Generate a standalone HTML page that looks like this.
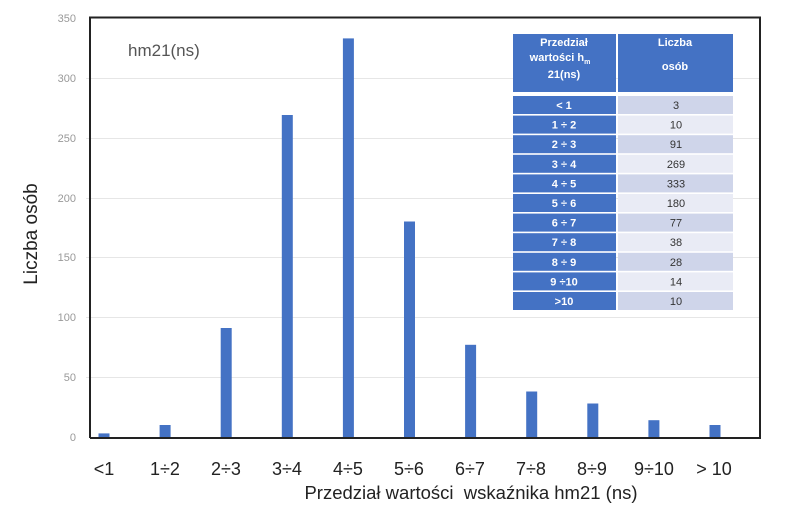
<!DOCTYPE html>
<html><head><meta charset="utf-8"><style>
body{margin:0;background:#fff;width:798px;height:510px;overflow:hidden;font-family:"Liberation Sans",sans-serif;}
</style></head><body>
<svg width="798" height="510" xmlns="http://www.w3.org/2000/svg" font-family="Liberation Sans, sans-serif">
<g stroke="#e6e6e6" stroke-width="1">
<line x1="86" x2="760" y1="78.5" y2="78.5"/>
<line x1="86" x2="760" y1="138.5" y2="138.5"/>
<line x1="86" x2="760" y1="198.5" y2="198.5"/>
<line x1="86" x2="760" y1="257.5" y2="257.5"/>
<line x1="86" x2="760" y1="317.5" y2="317.5"/>
<line x1="86" x2="760" y1="377.5" y2="377.5"/>
</g>
<g fill="#999" font-size="11" text-anchor="end">
<text x="76" y="22">350</text><text x="76" y="82">300</text><text x="76" y="142">250</text>
<text x="76" y="202">200</text><text x="76" y="261">150</text><text x="76" y="321">100</text>
<text x="76" y="381">50</text><text x="76" y="441">0</text>
</g>
<g fill="#4472c4">
<rect x="98.5" y="433.4" width="11" height="3.6"/>
<rect x="159.6" y="425" width="11" height="12"/>
<rect x="220.7" y="328" width="11" height="109"/>
<rect x="281.8" y="115" width="11" height="322"/>
<rect x="342.9" y="38.4" width="11" height="398.6"/>
<rect x="404" y="221.5" width="11" height="215.5"/>
<rect x="465.1" y="344.8" width="11" height="92.2"/>
<rect x="526.2" y="391.5" width="11" height="45.5"/>
<rect x="587.3" y="403.5" width="11" height="33.5"/>
<rect x="648.4" y="420.2" width="11" height="16.8"/>
<rect x="709.5" y="425" width="11" height="12"/>
</g>
<polyline points="90,438 90,17.5 760,17.5 760,438 90,438" fill="none" stroke="#222" stroke-width="2"/>
<text x="128" y="56" font-size="17" fill="#555">hm21(ns)</text>
<g font-size="11" font-weight="bold" fill="#fff" text-anchor="middle">
<rect x="513" y="34" width="103" height="58" fill="#4472c4"/>
<rect x="618" y="34" width="115" height="58" fill="#4472c4"/>
<text x="564" y="46">Przedział</text>
<text x="560" y="61">wartości h<tspan font-size="7" dy="3">m</tspan></text>
<text x="564" y="78">21(ns)</text>
<text x="675" y="46">Liczba</text>
<text x="675" y="70">osób</text>
</g>
<g font-size="11" text-anchor="middle">
<rect x="513" y="96" width="103" height="18" fill="#4472c4"/><rect x="618" y="96" width="115" height="18" fill="#cfd5ea"/>
<rect x="513" y="115.6" width="103" height="18" fill="#4472c4"/><rect x="618" y="115.6" width="115" height="18" fill="#e9ebf5"/>
<rect x="513" y="135.2" width="103" height="18" fill="#4472c4"/><rect x="618" y="135.2" width="115" height="18" fill="#cfd5ea"/>
<rect x="513" y="154.8" width="103" height="18" fill="#4472c4"/><rect x="618" y="154.8" width="115" height="18" fill="#e9ebf5"/>
<rect x="513" y="174.4" width="103" height="18" fill="#4472c4"/><rect x="618" y="174.4" width="115" height="18" fill="#cfd5ea"/>
<rect x="513" y="194" width="103" height="18" fill="#4472c4"/><rect x="618" y="194" width="115" height="18" fill="#e9ebf5"/>
<rect x="513" y="213.6" width="103" height="18" fill="#4472c4"/><rect x="618" y="213.6" width="115" height="18" fill="#cfd5ea"/>
<rect x="513" y="233.2" width="103" height="18" fill="#4472c4"/><rect x="618" y="233.2" width="115" height="18" fill="#e9ebf5"/>
<rect x="513" y="252.8" width="103" height="18" fill="#4472c4"/><rect x="618" y="252.8" width="115" height="18" fill="#cfd5ea"/>
<rect x="513" y="272.4" width="103" height="18" fill="#4472c4"/><rect x="618" y="272.4" width="115" height="18" fill="#e9ebf5"/>
<rect x="513" y="292" width="103" height="18" fill="#4472c4"/><rect x="618" y="292" width="115" height="18" fill="#cfd5ea"/>
<g fill="#fff" font-weight="bold">
<text x="564" y="109">&lt; 1</text><text x="564" y="128.6">1 ÷ 2</text><text x="564" y="148.2">2 ÷ 3</text>
<text x="564" y="167.8">3 ÷ 4</text><text x="564" y="187.4">4 ÷ 5</text><text x="564" y="207">5 ÷ 6</text>
<text x="564" y="226.6">6 ÷ 7</text><text x="564" y="246.2">7 ÷ 8</text><text x="564" y="265.8">8 ÷ 9</text>
<text x="564" y="285.4">9 ÷10</text><text x="564" y="305">&gt;10</text>
</g>
<g fill="#333">
<text x="676" y="109">3</text><text x="676" y="128.6">10</text><text x="676" y="148.2">91</text>
<text x="676" y="167.8">269</text><text x="676" y="187.4">333</text><text x="676" y="207">180</text>
<text x="676" y="226.6">77</text><text x="676" y="246.2">38</text><text x="676" y="265.8">28</text>
<text x="676" y="285.4">14</text><text x="676" y="305">10</text>
</g>
</g>
<g font-size="18" fill="#222" text-anchor="middle">
<text x="104" y="475">&lt;1</text><text x="165" y="475">1÷2</text><text x="226" y="475">2÷3</text>
<text x="287" y="475">3÷4</text><text x="348" y="475">4÷5</text><text x="409" y="475">5÷6</text>
<text x="470" y="475">6÷7</text><text x="531" y="475">7÷8</text><text x="592" y="475">8÷9</text>
<text x="654" y="475">9÷10</text><text x="714" y="475">&gt; 10</text>
<text x="471" y="499" font-size="18.5" xml:space="preserve">Przedział wartości  wskaźnika hm21 (ns)</text>
<text transform="translate(37,234) rotate(-90)" font-size="19">Liczba osób</text>
</g>
</svg>
</body></html>
